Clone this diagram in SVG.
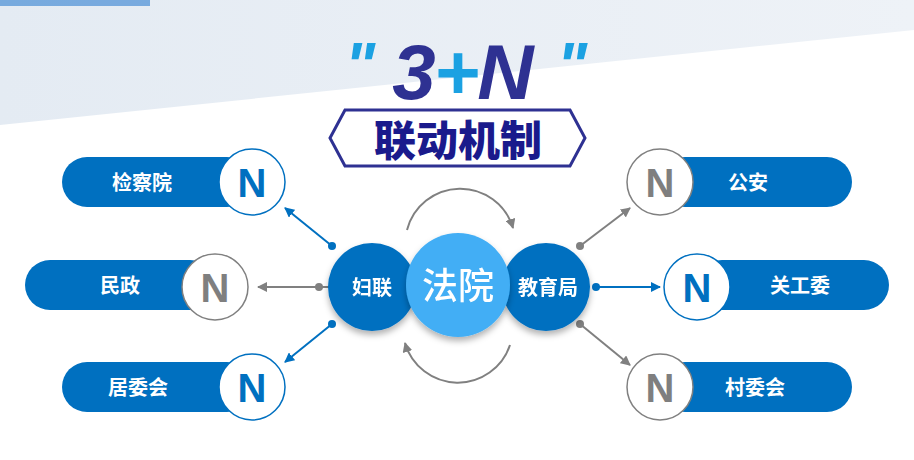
<svg xmlns="http://www.w3.org/2000/svg" width="914" height="460" viewBox="0 0 914 460">
<defs>
<style>
.pill{fill:#0070C0}
.pt{font-family:"Noto Sans CJK SC",sans-serif;font-size:20px;fill:#fff;font-weight:bold}
.nc{fill:#fff;stroke-width:1.5}
.nt{font-family:"Liberation Sans",sans-serif;font-weight:bold;font-size:40px;text-anchor:middle}
.bl{stroke:#0070C0;stroke-width:2;fill:none}
.gl{stroke:#808080;stroke-width:2;fill:none}
.q{font-family:"Liberation Sans",sans-serif;font-weight:bold;font-style:italic;font-size:64px;fill:#1BA1E2;text-anchor:middle}
</style>
<marker id="ab" viewBox="0 0 10 10" refX="9" refY="5" markerWidth="5" markerHeight="5" orient="auto"><path d="M0,0L10,5L0,10z" fill="#0070C0"/></marker>
<marker id="ag" viewBox="0 0 10 10" refX="9" refY="5" markerWidth="5" markerHeight="5" orient="auto"><path d="M0,0L10,5L0,10z" fill="#808080"/></marker>
<filter id="sh" x="-20%" y="-20%" width="140%" height="150%"><feDropShadow dx="0" dy="4" stdDeviation="3" flood-opacity="0.3"/></filter>
<linearGradient id="bg" x1="0" y1="0" x2="1" y2="0"><stop offset="0" stop-color="#e4ebf3"/><stop offset="1" stop-color="#eef2f7"/></linearGradient>
</defs>
<rect width="914" height="460" fill="#fff"/>
<polygon points="0,0 914,0 914,30 0,125" fill="url(#bg)"/>
<rect x="0" y="0" width="150" height="6" fill="#2f7fd0" opacity="0.6"/>
<g id="title">
<text class="q" x="360" y="88">"</text>
<text x="462" y="99" text-anchor="middle" font-family="Liberation Sans,sans-serif" font-weight="bold" font-style="italic" font-size="78" fill="#2E3192" letter-spacing="-2">3<tspan fill="#1BA1E2">+</tspan>N</text>
<text class="q" x="572" y="88">"</text>
<polygon points="345,110 570,110 585,138 570,166 345,166 330,138" fill="#fff" stroke="#2E3192" stroke-width="3"/>
<text x="458" y="156" text-anchor="middle" font-family="Noto Sans CJK SC,sans-serif" font-weight="900" font-size="42" fill="#1a1a8c">联动机制</text>
</g>
<g id="connectors">
<line class="bl" x1="332" y1="246" x2="285" y2="208" marker-end="url(#ab)"/>
<line class="gl" x1="330" y1="287" x2="258" y2="287" marker-end="url(#ag)"/>
<line class="bl" x1="332" y1="324" x2="285" y2="362" marker-end="url(#ab)"/>
<line class="gl" x1="580" y1="246" x2="630" y2="208" marker-end="url(#ag)"/>
<line class="bl" x1="596" y1="287" x2="660" y2="287" marker-end="url(#ab)"/>
<line class="gl" x1="580" y1="324" x2="630" y2="365" marker-end="url(#ag)"/>
<circle cx="332" cy="246" r="4" fill="#0070C0"/><circle cx="319" cy="287" r="4" fill="#808080"/><circle cx="332" cy="324" r="4" fill="#0070C0"/>
<circle cx="580" cy="246" r="4" fill="#808080"/><circle cx="596" cy="287" r="4" fill="#0070C0"/><circle cx="580" cy="324" r="4" fill="#808080"/>
<path class="gl" d="M407,230 A55,55 0 0 1 513,228" marker-end="url(#ag)"/>
<path class="gl" d="M510,345 A55,55 0 0 1 405,343" marker-end="url(#ag)"/>
</g>
<g id="fulian" filter="url(#sh)"><circle cx="372" cy="287" r="44" fill="#0070C0"/><text x="372" y="295" text-anchor="middle" class="pt" font-size="22">妇联</text></g>
<g id="jiaoyu" filter="url(#sh)"><circle cx="546" cy="287" r="44" fill="#0070C0"/><text x="548" y="295" text-anchor="middle" class="pt" font-size="21">教育局</text></g>
<g id="fayuan" filter="url(#sh)"><circle cx="458" cy="285" r="52" fill="#42AEF5"/><text x="458" y="299" text-anchor="middle" font-family="Noto Sans CJK SC,sans-serif" font-size="36" font-weight="500" fill="#fff">法院</text></g>
<g id="jianchayuan"><rect class="pill" x="62" y="157" width="190" height="50" rx="25"/><text class="pt" x="112" y="190">检察院</text><circle class="nc" cx="252" cy="182" r="33" stroke="#0070C0"/><text class="nt" x="252" y="197" fill="#0070C0">N</text></g>
<g id="minzheng"><rect class="pill" x="25" y="260" width="190" height="50" rx="25"/><text class="pt" x="100" y="293">民政</text><circle class="nc" cx="215" cy="287" r="33" stroke="#808080"/><text class="nt" x="215" y="302" fill="#7f7f7f">N</text></g>
<g id="juweihui"><rect class="pill" x="62" y="362" width="190" height="50" rx="25"/><text class="pt" x="108" y="395">居委会</text><circle class="nc" cx="252" cy="387" r="33" stroke="#0070C0"/><text class="nt" x="252" y="402" fill="#0070C0">N</text></g>
<g id="gongan"><rect class="pill" x="660" y="157" width="192" height="50" rx="25"/><text class="pt" x="728" y="190">公安</text><circle class="nc" cx="660" cy="182" r="33" stroke="#808080"/><text class="nt" x="660" y="197" fill="#7f7f7f">N</text></g>
<g id="guangongwei"><rect class="pill" x="697" y="260" width="192" height="50" rx="25"/><text class="pt" x="770" y="293">关工委</text><circle class="nc" cx="697" cy="287" r="33" stroke="#0070C0"/><text class="nt" x="697" y="302" fill="#0070C0">N</text></g>
<g id="cunweihui"><rect class="pill" x="660" y="362" width="192" height="50" rx="25"/><text class="pt" x="725" y="395">村委会</text><circle class="nc" cx="660" cy="387" r="33" stroke="#808080"/><text class="nt" x="660" y="402" fill="#7f7f7f">N</text></g>
</svg>
